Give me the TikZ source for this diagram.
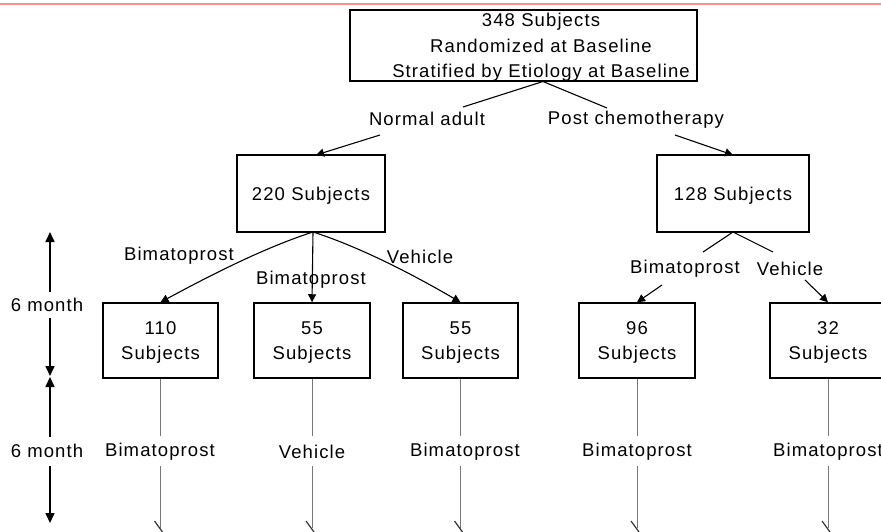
\documentclass[tikz,border=0pt]{standalone}
\usepackage{fontspec}
\setmainfont{Liberation Sans}[LetterSpace=6]
\usetikzlibrary{arrows.meta,calc}
\definecolor{pinkline}{RGB}{255,140,140}
\definecolor{grayline}{RGB}{120,120,120}
\tikzset{
  box/.style={draw=black, line width=1.5pt, rectangle, align=center, inner sep=0pt, text depth=0pt},
  lbl/.style={inner sep=0pt, align=center},
  conn/.style={draw=black, line width=1.1pt},
  arr/.style={conn, -{Triangle[length=8pt,width=8pt]}},
  vline/.style={draw=grayline, line width=1pt},
  tline/.style={draw=black, line width=1.6pt, -{Triangle[length=10pt,width=9pt]}},
}
\begin{document}
\begin{tikzpicture}[x=1pt,y=-1pt, font=\fontsize{18.5}{25.5}\selectfont]
\useasboundingbox (0,0) rectangle (881,532);
\clip (0,0) rectangle (881,532);
\fill[white] (0,0) rectangle (881,532);
\draw[pinkline, line width=1.3pt] (0,4) -- (881,4);

% top box
\node[box, minimum width=347pt, minimum height=71pt] (top) at (523.5,45.5) {};
\node[lbl, text depth=0pt] (toptxt) at (541,45.5)
  {348 Subjects\\Randomized at Baseline\\Stratified by Etiology at Baseline};

% second level
\node[box, minimum width=148pt, minimum height=77pt] (n220) at (311,193.5) {220 Subjects};
\node[box, minimum width=152pt, minimum height=77pt] (n128) at (733,193.5) {128 Subjects};

\node[lbl] (lnorm) at (427,119) {Normal adult};
\node[lbl] (lpost) at (636,120) {Post chemotherapy};

\coordinate (tsplit) at (543,81.5);
\coordinate (na1) at (463,107);
\coordinate (na2) at (380,135);
\coordinate (pc1) at (607,108);
\coordinate (pc2) at (675,135);
\coordinate (t220) at (316,155);
\coordinate (t128) at (733,155);

\draw[conn] (tsplit) -- (na1);
\draw[conn] (tsplit) -- (pc1);
\draw[arr] (na2) -- (t220);
\draw[arr] (pc2) -- (t128);

% third level boxes
\node[box, minimum width=115pt, minimum height=75pt] (b110) at (160.5,340.5) {110\\Subjects};
\node[box, minimum width=116pt, minimum height=75pt] (b55a) at (312,340.5) {55\\Subjects};
\node[box, minimum width=115pt, minimum height=75pt] (b55b) at (460.5,340.5) {55\\Subjects};
\node[box, minimum width=116pt, minimum height=75pt] (b96) at (637,340.5) {96\\Subjects};
\node[box, minimum width=116pt, minimum height=75pt] (b32) at (828,340.5) {32\\Subjects};

% labels between 220 and its boxes
\node[lbl] (l1) at (179,256) {Bimatoprost};
\node[lbl] (l2) at (311,280) {Bimatoprost};
\node[lbl] (l3) at (420,257) {Vehicle};

\coordinate (s220) at (313,232);
\draw[arr] (s220) .. controls (270.6,245.6) and (221.3,269.3) .. (b110.north);
\draw[arr] (s220) -- (b55a.north);
\draw[arr] (s220) .. controls (353.9,245.1) and (402.9,268.7) .. (b55b.north);

% 128 branch
\node[lbl] (l4) at (685,269) {Bimatoprost};
\node[lbl] (l5) at (790,269) {Vehicle};
\coordinate (s128) at (733,232);
\coordinate (c4a) at (703,252);
\coordinate (c5a) at (773,252);
\coordinate (c4b) at (662,285);
\coordinate (c5b) at (805,280);
\draw[conn] (s128) -- (c4a);
\draw[conn] (s128) -- (c5a);
\draw[arr] (c4b) -- (b96.north);
\draw[arr] (c5b) -- (b32.north);

% bottom treatment labels and lines
\foreach \nm/\x/\t in {b110/160/Bimatoprost, b55a/312/Vehicle, b55b/465/Bimatoprost, b96/637/Bimatoprost, b32/828/Bimatoprost}{
  \node[lbl] (bl\nm) at (\x,452) {\t};
  \draw[vline] (\nm.south) -- (\nm.south |- 0,436);
  \draw[vline] (\nm.south |- 0,466) -- (\nm.south |- 0,528);
  \draw[draw=black!80, line width=1.2pt] ($(\nm.south |- 0,521)+(-6,0)$) -- ($(\nm.south |- 0,521)+(2,11)$);
}

% timeline
\node[lbl] (m1) at (47,305) {6 month};
\node[lbl] (m2) at (47,451) {6 month};
\coordinate (ta) at (50,232);
\coordinate (tb) at (50,292);
\coordinate (tc) at (50,318);
\coordinate (td) at (50,376);
\coordinate (te) at (50,377);
\coordinate (tf) at (50,437);
\coordinate (tg) at (50,466);
\coordinate (th) at (50,523);
\draw[tline] (tb) -- (ta);
\draw[tline] (tc) -- (td);
\draw[tline] (tf) -- (te);
\draw[tline] (tg) -- (th);
\end{tikzpicture}
\end{document}
